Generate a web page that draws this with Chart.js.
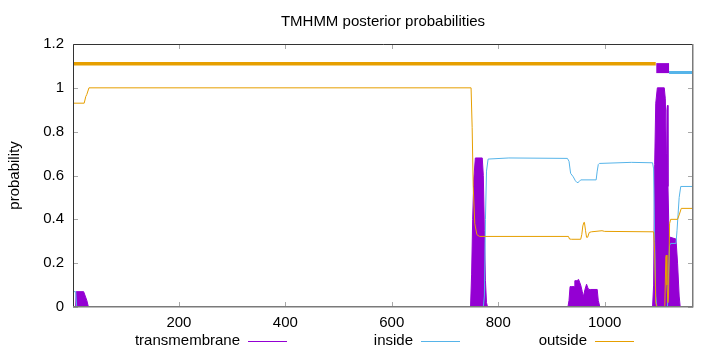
<!DOCTYPE html>
<html><head><meta charset="utf-8">
<script src="https://cdn.jsdelivr.net/npm/chart.js@4/dist/chart.umd.min.js"></script>
<style>html,body{margin:0;padding:0;background:#fff}#wrap{width:720px;height:352px;position:relative}</style>
</head><body><div id="wrap"><canvas id="c" width="720" height="352"></canvas></div>
<script>
// ---- data ----
const titleText = "TMHMM posterior probabilities";
const yAxisLabel = "probability";
const seqStart = 1, seqEnd = 1166;
const xTicks = [200, 400, 600, 800, 1000];
const yTicks = [0, 0.2, 0.4, 0.6, 0.8, 1, 1.2];
const seriesNames = ["transmembrane", "inside", "outside"];

// transmembrane posterior
const tmPos  = [1,6,7,21,24,27,30,748,750,752,754,757,770,772,774,776,778,780,931,933,935,938,943,944,948,951,955,958,960,963,966,968,970,973,986,988,991,1090,1092,1094,1096,1099,1112,1114,1116,1117,1118,1119,1121,1134,1137,1140,1142,1166];
const tmProb = [0,0,0.07,0.07,0.05,0.03,0,0,0.15,0.4,0.58,0.68,0.68,0.6,0.35,0.12,0.02,0,0,0.03,0.093,0.093,0.093,0.12,0.12,0.126,0.1,0.07,0.047,0.08,0.104,0.09,0.08,0.08,0.08,0.03,0,0,0.1,0.65,0.93,1.0,1.0,0.95,0.7,0.9,0.92,0.55,0.32,0.31,0.2,0.05,0,0];

// inside posterior
const inPos  = [1,6,8,772,774,776,778,781,820,930,933,936,941,945,948,950,952,955,984,986,988,990,1050,1090,1092,1094,1096,1098,1118,1120,1122,1124,1134,1136,1140,1143,1166];
const inProb = [0.07,0.07,0,0,0.05,0.4,0.62,0.675,0.68,0.678,0.665,0.61,0.594,0.576,0.568,0.568,0.572,0.58,0.58,0.62,0.65,0.655,0.66,0.658,0.63,0.3,0.05,0,0,0.15,0.28,0.29,0.29,0.35,0.5,0.55,0.55];

// outside posterior
const outPos  = [1,22,25,27,31,749,751,753,756,760,765,932,934,938,955,957,959,961,962,964,966,968,971,975,995,1000,1092,1094,1096,1098,1113,1115,1116,1117,1119,1120,1122,1124,1137,1140,1144,1166];
const outProb = [0.93,0.93,0.96,0.97,1.0,1.0,0.82,0.55,0.38,0.33,0.322,0.322,0.31,0.309,0.309,0.33,0.37,0.386,0.386,0.35,0.318,0.318,0.34,0.343,0.348,0.345,0.343,0.25,0.02,0,0,0.23,0.237,0.1,0.02,0.05,0.38,0.40,0.40,0.42,0.45,0.45];

// predicted topology bars above the curves
const topOutsideX = [1, 1096],    topOutsideY = [1.11, 1.11];
const topTmX      = [1097, 1121], topTmY      = [1.09, 1.09];
const topInsideX  = [1121, 1166], topInsideY  = [1.07, 1.07];

// ---- styling ----
const PURPLE = "#9400d3", BLUE = "#56b4e9", ORANGE = "#e69f00";
const FONT = '"Liberation Sans", Arial, sans-serif';
const pts = (xs, ys) => xs.map((x, i) => ({x: x, y: ys[i]}));

const framePlugin = {
  id: 'frame',
  afterDatasetsDraw(chart) {
    const {ctx, chartArea: a, scales} = chart;
    ctx.save();
    // inward tick marks (mirrored)
    ctx.strokeStyle = '#a8a8a8'; ctx.lineWidth = 1;
    ctx.beginPath();
    xTicks.forEach(v => {
      const px = Math.round(scales.x.getPixelForValue(v)) + 0.5;
      ctx.moveTo(px, a.bottom); ctx.lineTo(px, a.bottom - 5);
      ctx.moveTo(px, a.top); ctx.lineTo(px, a.top + 5);
    });
    yTicks.forEach(v => {
      const py = Math.round(scales.y.getPixelForValue(v)) + 0.5;
      ctx.moveTo(a.left, py); ctx.lineTo(a.left + 5, py);
      ctx.moveTo(a.right, py); ctx.lineTo(a.right - 5, py);
    });
    ctx.stroke();
    // border
    ctx.lineWidth = 1;
    ctx.strokeStyle = '#333';
    ctx.beginPath();
    ctx.moveTo(a.left + 0.5, a.bottom); ctx.lineTo(a.left + 0.5, a.top + 0.5); ctx.lineTo(a.right, a.top + 0.5);
    ctx.stroke();
    ctx.strokeStyle = '#7a7a7a'; ctx.lineWidth = 1.5;
    ctx.beginPath();
    ctx.moveTo(a.right - 0.25, a.top); ctx.lineTo(a.right - 0.25, a.bottom - 0.25); ctx.lineTo(a.left, a.bottom - 0.25);
    ctx.stroke();
    ctx.restore();
  },
  afterDraw(chart) {
    const {ctx, chartArea: a} = chart;
    ctx.save();
    ctx.fillStyle = '#000';
    ctx.font = '15px ' + FONT;
    ctx.textAlign = 'center'; ctx.textBaseline = 'middle';
    ctx.fillText(titleText, (a.left + a.right) / 2, 22);
    ctx.save();
    ctx.translate(15, (a.top + a.bottom) / 2);
    ctx.rotate(-Math.PI / 2);
    ctx.fillText(yAxisLabel, 0, 0);
    ctx.restore();
    // gnuplot-style key: text then sample line
    const keyRight = [240, 413, 587];
    const keyColors = [PURPLE, BLUE, ORANGE];
    ctx.textAlign = 'right';
    seriesNames.forEach((name, i) => {
      ctx.fillStyle = '#000';
      ctx.fillText(name, keyRight[i], 341);
      ctx.strokeStyle = keyColors[i]; ctx.lineWidth = 1;
      ctx.beginPath();
      ctx.moveTo(keyRight[i] + 8, 341.5); ctx.lineTo(keyRight[i] + 47, 341.5);
      ctx.stroke();
    });
    ctx.restore();
  }
};

new Chart(document.getElementById('c'), {
  type: 'line',
  data: {
    datasets: [
      {label: seriesNames[2], data: pts(outPos, outProb), borderColor: ORANGE, borderWidth: 1, pointRadius: 0, fill: false, order: 1},
      {label: seriesNames[1], data: pts(inPos, inProb), borderColor: BLUE, borderWidth: 1, pointRadius: 0, fill: false, order: 2},
      {label: seriesNames[0], data: pts(tmPos, tmProb), borderColor: PURPLE, backgroundColor: PURPLE, borderWidth: 1, pointRadius: 0, fill: 'origin', order: 3},
      {label: 'top-outside', data: pts(topOutsideX, topOutsideY), borderColor: ORANGE, borderWidth: 3.5, borderCapStyle: 'butt', pointRadius: 0, order: 0},
      {label: 'top-tm', data: pts(topTmX, topTmY), borderColor: PURPLE, borderWidth: 10, borderCapStyle: 'butt', pointRadius: 0, order: 0},
      {label: 'top-inside', data: pts(topInsideX, topInsideY), borderColor: BLUE, borderWidth: 3, borderCapStyle: 'butt', pointRadius: 0, order: 0}
    ]
  },
  options: {
    responsive: false, animation: false, devicePixelRatio: 1,
    layout: {padding: {left: 0, right: 27, top: 44, bottom: 0}},
    plugins: {legend: {display: false}, title: {display: false}, tooltip: {enabled: false}},
    elements: {line: {tension: 0}},
    scales: {
      x: {
        type: 'linear', min: seqStart, max: seqEnd,
        afterBuildTicks: s => { s.ticks = xTicks.map(v => ({value: v})); },
        afterFit: s => { s.height = 45; },
        grid: {display: false, drawTicks: false}, border: {display: false},
        ticks: {color: '#000', font: {family: FONT, size: 15}, padding: 7, maxRotation: 0, autoSkip: false, callback: v => String(v)}
      },
      y: {
        type: 'linear', min: 0, max: 1.2,
        afterBuildTicks: s => { s.ticks = yTicks.map(v => ({value: v})); },
        afterFit: s => { s.width = 73; },
        grid: {display: false, drawTicks: false}, border: {display: false},
        ticks: {color: '#000', font: {family: FONT, size: 15}, padding: 9, autoSkip: false, callback: v => String(Math.round(v * 10) / 10)}
      }
    }
  },
  plugins: [framePlugin]
});
</script></body></html>
